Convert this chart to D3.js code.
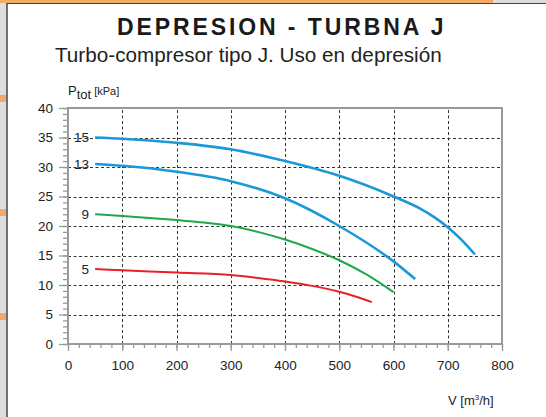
<!DOCTYPE html>
<html>
<head>
<meta charset="utf-8">
<script src="https://cdn.jsdelivr.net/npm/d3@7"></script>
<style>
  body { margin: 0; background: #fff; }
  svg { display: block; font-family: "Liberation Sans", Arial, sans-serif; }
</style>
</head>
<body>
<svg id="chart" width="546" height="417"></svg>
<script>
// curve values (flow in m3/h, pressure in kPa)
const flow15 = [50, 100, 200, 300, 400, 500, 600, 650, 675, 700, 725, 750];
const pres15 = [35.0, 34.8, 34.1, 33.0, 31.0, 28.5, 25.0, 22.9, 21.5, 19.8, 17.7, 15.2];
const flow13 = [50, 100, 200, 300, 400, 500, 600, 640];
const pres13 = [30.5, 30.2, 29.2, 27.6, 24.7, 20.0, 14.0, 11.0];
const flow9 = [50, 100, 200, 250, 300, 350, 400, 450, 500, 550, 600];
const pres9 = [22.0, 21.7, 21.0, 20.6, 20.0, 19.0, 17.7, 16.1, 14.2, 11.8, 8.8];
const flow5 = [50, 100, 200, 300, 350, 400, 450, 500, 530, 560];
const pres5 = [12.7, 12.5, 12.1, 11.7, 11.2, 10.6, 9.85, 8.85, 8.05, 7.1];

const curveNames = ["15", "13", "9", "5"];
const curveColours = ["#1b98d8", "#1b98d8", "#1ea84a", "#e8202a"];

const xTicks = [0, 100, 200, 300, 400, 500, 600, 700, 800];
const yTicks = [0, 5, 10, 15, 20, 25, 30, 35, 40];

const svg = d3.select("#chart");

// page decoration: grey strip on the left, orange band on top
svg.append("rect").attr("x", 0).attr("y", 0).attr("width", 546).attr("height", 417).attr("fill", "#fff");
svg.append("rect").attr("x", 0).attr("y", 0).attr("width", 7).attr("height", 417).attr("fill", "#dedede");
svg.append("rect").attr("x", 0).attr("y", 0).attr("width", 546).attr("height", 3).attr("fill", "#dcdcdc");
svg.append("rect").attr("x", 0).attr("y", 0).attr("width", 493).attr("height", 3).attr("fill", "#f4a964");
[95, 209, 313].forEach(y => {
    svg.append("rect").attr("x", 0).attr("y", y).attr("width", 6).attr("height", 7).attr("fill", "#f4a964");
});
svg.append("line").attr("x1", 7).attr("x2", 546).attr("y1", 3.5).attr("y2", 3.5).attr("stroke", "#444").attr("stroke-width", 1.2);
svg.append("line").attr("x1", 7).attr("x2", 7).attr("y1", 3).attr("y2", 417).attr("stroke", "#444").attr("stroke-width", 1.5);

// titles
svg.append("text")
    .attr("x", 117).attr("y", 35)
    .attr("font-size", 23).attr("font-weight", "bold")
    .attr("letter-spacing", 2.9)
    .attr("fill", "#1a1a1a")
    .text("DEPRESION - TURBNA J");

svg.append("text")
    .attr("x", 55).attr("y", 62)
    .attr("font-size", 20.7)
    .attr("fill", "#222")
    .text("Turbo-compresor tipo J. Uso en depresión");

const x = d3.scaleLinear().domain([0, 800]).range([68, 502]);
const y = d3.scaleLinear().domain([0, 40]).range([344, 108]);

// dotted grid
const grid = svg.append("g")
    .attr("stroke", "#333")
    .attr("stroke-width", 1)
    .attr("stroke-dasharray", "3,2.5");

grid.selectAll(".vgrid")
    .data(xTicks.slice(1, -1))
    .join("line")
    .attr("x1", d => Math.round(x(d)) + 0.5)
    .attr("x2", d => Math.round(x(d)) + 0.5)
    .attr("y1", y(0)).attr("y2", y(40));

grid.selectAll(".hgrid")
    .data(yTicks.slice(1, -1))
    .join("line")
    .attr("y1", d => Math.round(y(d)) + 0.5)
    .attr("y2", d => Math.round(y(d)) + 0.5)
    .attr("x1", x(0)).attr("x2", x(800));

// axes with minor ticks
const yMinor = d3.axisLeft(y).ticks(40).tickSize(5).tickFormat("");
const yMajor = d3.axisLeft(y).tickValues(yTicks).tickSize(9).tickPadding(6).tickFormat(d3.format("d"));
const xMinor = d3.axisBottom(x).ticks(40).tickSize(4).tickFormat("");
const xMajor = d3.axisBottom(x).tickValues(xTicks).tickSize(7).tickPadding(9).tickFormat(d3.format("d"));

const styleAxis = g => {
    g.select(".domain").remove();
    g.selectAll("line").attr("stroke", "#999").attr("stroke-width", 1.3);
    g.selectAll("text").attr("fill", "#222").attr("font-size", 13.5).attr("font-family", "Liberation Sans, Arial, sans-serif");
};

svg.append("g").attr("transform", `translate(${x(0)},0)`).call(yMinor).call(styleAxis);
svg.append("g").attr("transform", `translate(${x(0)},0)`).call(yMajor).call(styleAxis);
svg.append("g").attr("transform", `translate(0,${y(0)})`).call(xMinor).call(styleAxis);
svg.append("g").attr("transform", `translate(0,${y(0)})`).call(xMajor).call(styleAxis);

// plot frame
svg.append("rect")
    .attr("x", x(0)).attr("y", y(40))
    .attr("width", x(800) - x(0)).attr("height", y(0) - y(40))
    .attr("fill", "none").attr("stroke", "#999").attr("stroke-width", 2);

// axis titles
const yLabel = svg.append("text").attr("x", 68).attr("y", 95).attr("fill", "#222");
yLabel.append("tspan").attr("font-size", 13).text("P");
yLabel.append("tspan").attr("font-size", 13).attr("dy", 4).text("tot");
yLabel.append("tspan").attr("font-size", 11).attr("dy", -4).attr("dx", 3).text("[kPa]");

const xLabel = svg.append("text").attr("x", 448).attr("y", 405).attr("fill", "#222").attr("font-size", 13);
xLabel.append("tspan").text("V [m");
xLabel.append("tspan").attr("font-size", 8).attr("dy", -5).text("3");
xLabel.append("tspan").attr("dy", 5).text("/h]");

// performance curves
const series = [
    { flow: flow15, pres: pres15 },
    { flow: flow13, pres: pres13 },
    { flow: flow9, pres: pres9 },
    { flow: flow5, pres: pres5 }
].map((s, i) => ({
    name: curveNames[i],
    colour: curveColours[i],
    points: s.flow.map((f, j) => ({ f: f, p: s.pres[j] }))
}));

const line = d3.line()
    .x(d => x(d.f))
    .y(d => y(d.p))
    .curve(d3.curveMonotoneX);

svg.selectAll(".curve")
    .data(series)
    .join("path")
    .attr("class", "curve")
    .attr("fill", "none")
    .attr("stroke", d => d.colour)
    .attr("stroke-width", (d, i) => i < 2 ? 2.6 : 2)
    .attr("d", d => line(d.points));

svg.selectAll(".curve-label")
    .data(series)
    .join("text")
    .attr("class", "curve-label")
    .attr("x", d => x(d.points[0].f) - 6)
    .attr("y", d => y(d.points[0].p))
    .attr("dy", "0.35em")
    .attr("text-anchor", "end")
    .attr("font-size", 13.5)
    .attr("fill", "#222")
    .text(d => d.name);
</script>
</body>
</html>
